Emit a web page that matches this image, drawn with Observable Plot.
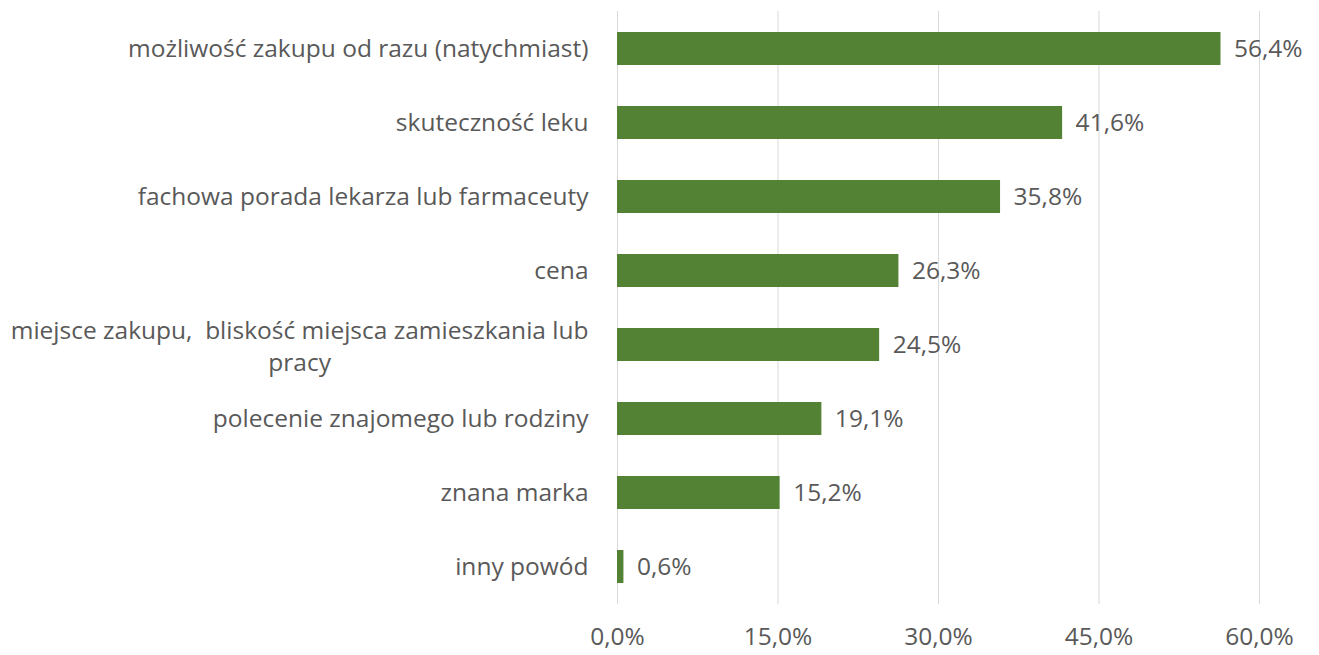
<!DOCTYPE html>
<html>
<head>
<meta charset="utf-8">
<script src="https://cdn.jsdelivr.net/npm/d3@7"></script>
<script src="https://cdn.jsdelivr.net/npm/@observablehq/plot@0.6"></script>
<style>
  html, body { margin: 0; padding: 0; background: #ffffff; }
  #chart { width: 1319px; height: 655px; }
</style>
</head>
<body>
<div id="chart"></div>
<script>
const categories = [
  "możliwość zakupu od razu (natychmiast)",
  "skuteczność leku",
  "fachowa porada lekarza lub farmaceuty",
  "cena",
  "miejsce zakupu,  bliskość miejsca zamieszkania lub\npracy",
  "polecenie znajomego lub rodziny",
  "znana marka",
  "inny powód"
];
const values = [56.4, 41.6, 35.8, 26.3, 24.5, 19.1, 15.2, 0.6];
const xTicks = [0, 15, 30, 45, 60];

const FONT_FAMILY = "'Open Sans', sans-serif";
const FONT_SIZE = 24.5;
const TEXT_COLOR = "#595959";
const BAR_COLOR = "#548235";
const LABEL_GAP = 29;

const data = categories.map((c, i) => ({category: c, value: values[i]}));

// measure widest line of wrapped labels to center their lines as a block
const ctx = document.createElement("canvas").getContext("2d");
ctx.font = `${FONT_SIZE}px ${FONT_FAMILY}`;
const blockWidth = c => Math.max(...c.split("\n").map(s => ctx.measureText(s).width));

const single = data.filter(d => !d.category.includes("\n"));
const wrapped = data.filter(d => d.category.includes("\n"));

const fmt = v => v.toFixed(1).replace(".", ",") + "%";

function render() {
  ctx.font = `${FONT_SIZE}px ${FONT_FAMILY}`;
  const chart = Plot.plot({
    width: 1319,
    height: 655,
    marginLeft: 617,
    marginRight: 60,
    marginTop: 11,
    marginBottom: 51,
    style: {fontFamily: FONT_FAMILY, fontSize: FONT_SIZE + "px", color: TEXT_COLOR, background: "#ffffff"},
    x: {domain: [0, 60], ticks: xTicks, label: null},
    y: {domain: categories, paddingInner: 0.554, paddingOuter: 0.277, axis: null, label: null},
    marks: [
      Plot.gridX(xTicks, {stroke: "#d9d9d9", strokeOpacity: 1, strokeWidth: 1}),
      Plot.axisX(xTicks, {
        tickSize: 0, tickPadding: 23, fill: TEXT_COLOR, label: null,
        fontSize: FONT_SIZE, tickFormat: fmt
      }),
      Plot.barX(data, {x: "value", y: "category", fill: BAR_COLOR}),
      Plot.text(data, {
        x: "value", y: "category", text: d => fmt(d.value),
        textAnchor: "start", dx: 13, fill: TEXT_COLOR, fontSize: FONT_SIZE
      }),
      Plot.text(single, {
        x: 0, y: "category", text: "category",
        textAnchor: "end", dx: -LABEL_GAP, fill: TEXT_COLOR, fontSize: FONT_SIZE
      }),
      ...wrapped.map(d => Plot.text([d], {
        x: 0, y: "category", text: "category",
        textAnchor: "middle", dx: -LABEL_GAP - blockWidth(d.category) / 2,
        lineHeight: 1.3, fill: TEXT_COLOR, fontSize: FONT_SIZE
      }))
    ]
  });
  const el = document.getElementById("chart");
  el.innerHTML = "";
  el.appendChild(chart);
}
render();
if (document.fonts && document.fonts.load) {
  document.fonts.load(`${FONT_SIZE}px 'Open Sans'`).then(render);
}
</script>
</body>
</html>
